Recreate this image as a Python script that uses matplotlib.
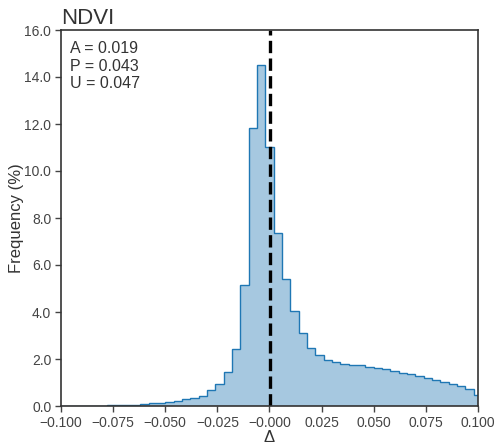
import numpy as np
import matplotlib
matplotlib.use("Agg")
import matplotlib.pyplot as plt

plt.rcParams['font.family'] = ['Liberation Sans', 'DejaVu Sans']

# histogram of NDVI differences, 0.004 wide bins
bin_edges = np.round(np.arange(-0.102, 0.1021, 0.004), 3)
freq_pct = [0.0, 0.0, 0.0, 0.0, 0.0, 0.0,
            0.03, 0.04, 0.05, 0.06, 0.09, 0.11, 0.14, 0.17, 0.21, 0.28,
            0.34, 0.44, 0.68, 0.92, 1.43, 2.41, 5.15, 11.84, 14.51, 11.0,
            7.36, 5.42, 4.04, 3.12, 2.47, 2.16, 1.97, 1.86, 1.79, 1.74,
            1.74, 1.67, 1.60, 1.56, 1.49, 1.42, 1.36, 1.28, 1.21, 1.11,
            1.02, 0.92, 0.84, 0.74, 0.48]
stats = {"A": 0.019, "P": 0.043, "U": 0.047}

fig = plt.figure(figsize=(4.96, 4.44), dpi=100)
ax = fig.add_axes([61 / 496, 38 / 444, 417 / 496, 376 / 444])

ax.stairs(freq_pct, bin_edges, fill=True, color='#a6c8e0')
ax.stairs(freq_pct, bin_edges, color='#1f77b4', linewidth=1.0)
ax.axvline(0.0, color='black', linestyle='--', linewidth=2.4)

ax.set_xlim(-0.1, 0.1)
ax.set_ylim(0, 16)
xt = np.arange(-0.1, 0.1001, 0.025)
ax.set_xticks(xt)
ax.set_xticklabels([f"{v:.3f}".replace('-', '\u2212') for v in xt])
yt = np.arange(0, 16.1, 2)
ax.set_yticks(yt)
ax.set_yticklabels([f"{v:.1f}" for v in yt])

for s in ax.spines.values():
    s.set_color('#333333')
    s.set_linewidth(1.2)
ax.tick_params(colors='#444444', labelsize=10, length=4, width=1.0, pad=3)

ax.set_xlabel('\u0394', fontsize=12, color='#333333', labelpad=0)
ax.set_ylabel('Frequency (%)', fontsize=12, color='#333333', labelpad=0)
ax.set_title('NDVI', loc='left', fontsize=16, color='#333333', pad=4)

txt = "\n".join(f"{k} = {v:.3f}" for k, v in stats.items())
ax.text(0.022, 0.97, txt, transform=ax.transAxes, va='top', ha='left',
        fontsize=11.5, color='#333333', linespacing=1.2)

fig.savefig('out.png', dpi=100)
